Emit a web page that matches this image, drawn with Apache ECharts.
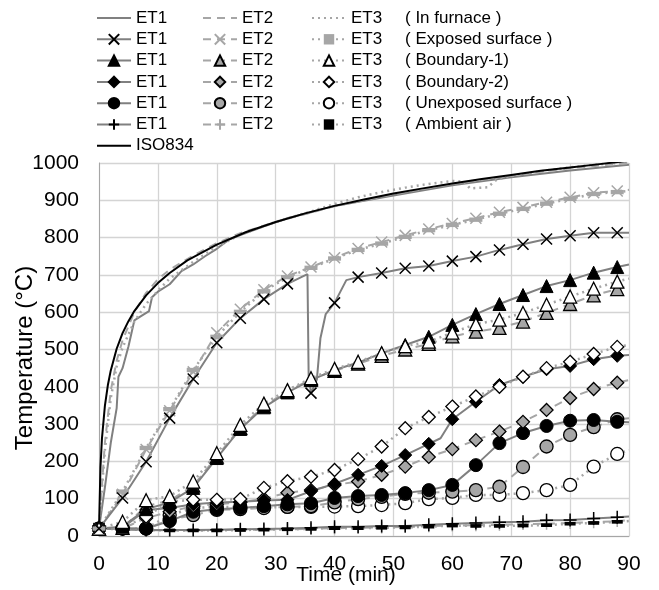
<!DOCTYPE html>
<html>
<head>
<meta charset="utf-8">
<script src="https://cdn.jsdelivr.net/npm/echarts@6/dist/echarts.min.js"></script>
<style>
  html, body { margin: 0; padding: 0; background: #fff; }
  #chart { width: 659px; height: 590px; }
</style>
</head>
<body>
<div id="chart"></div>
<script>
// time axis (min), markers every 4 min
const mins = [0,4,8,12,16,20,24,28,32,36,40,44,48,52,56,60,64,68,72,76,80,84,88,90]

// ISO834 standard fire curve
const isoTime = [0,0.25,0.5,1,1.5,2,3,4,5,6,8,10,12,15,20,25,30,35,40,45,50,55,60,65,70,75,80,85,90]
const isoTemp = [20,185,261,349,404,444,502,544,576,603,645,678,705,739,781,815,842,865,885,902,918,932,945,957,968,979,988,997,1006]

// in furnace
const furn1Time = [0,1,2,3,3.3,4,5,6,7,8.5,9,10,12,14,16,18,20,22,24,28,32,36,40,50,60,70,80,90]
const furn1 = [20,130,250,343,427,450,508,578,588,603,640,655,675,710,728,750,770,794,807,830,852,868,885,913,940,962,980,995]
const furn2Time = [0,1,2,3,4,6,8,10,12,16,20,24,30,40,50,60,70,80,90]
const furn2 = [20,250,390,470,525,600,652,688,714,752,785,812,842,884,916,944,966,986,1000]
const furn3Time = [0,1,2,3,4,6,8,10,12,16,20,24,30,36,40,44,48,52,56,60,62,63,66,67.5,70,76,80,84,88,90]
const furn3 = [20,230,370,455,505,575,622,658,690,735,775,808,842,870,890,908,922,934,944,952,950,932,935,955,965,980,988,995,1000,1000]

// exposed surface
const exp1Time = [0,4,8,12,16,20,24,28,32,35.4,35.6,36,37,37.6,38.5,40,42,44,48,52,56,60,64,68,72,76,80,84,88,90]
const exp1 = [20,102,199,316,421,518,584,635,676,702,430,383,420,530,595,625,686,694,705,718,724,737,749,767,782,796,805,813,813,813]
const exp2 = [20,112,232,336,440,545,608,660,697,721,746,771,788,806,823,838,852,868,881,895,908,920,925,928]
const exp3 = [20,119,236,340,445,534,601,656,694,719,744,767,784,802,820,834,848,864,877,891,904,917,922,925]

// boundary-1
const bnd1a = [20,25,72,90,129,209,287,345,385,418,445,465,490,512,534,566,595,622,646,670,686,706,721,728]
const bnd1b = [20,22,80,95,135,213,290,348,388,420,443,462,483,500,515,535,548,558,575,598,622,645,662,670]
const bnd1c = [20,38,96,107,146,222,298,355,391,423,448,467,490,509,521,545,568,580,598,620,642,663,682,690]

// boundary-2
const bnd2aTime = [0,4,8,12,16,20,24,28,32,36,40,44,48,52,56,58,60,64,68,72,76,80,84,88,90]
const bnd2a = [20,22,70,75,85,90,92,95,97,120,140,164,188,217,247,262,313,360,405,427,447,456,474,483,485]
const bnd2b = [20,20,48,65,80,85,90,100,116,123,137,146,164,186,212,233,257,280,306,338,370,394,411,418]
const bnd2c = [20,22,52,92,97,97,99,129,147,159,177,206,240,289,319,347,374,400,427,450,467,488,507,512]

// unexposed surface
const unexp1 = [20,20,20,40,65,72,75,80,85,88,102,107,110,115,123,137,190,249,276,295,309,311,306,305]
const unexp2 = [20,20,20,43,56,70,72,75,78,80,90,99,105,113,116,119,123,132,185,240,271,292,313,316]
const unexp3 = [20,20,20,56,75,78,78,76,78,78,79,80,83,88,99,102,110,110,115,123,137,186,220,230]

// ambient air
const amb1 = [20,18,16,16,16,17,18,19,20,22,25,25,27,27,30,33,35,37,38,42,43,47,50,52]
const amb2 = [20,18,16,15,15,16,17,17,18,19,21,22,23,24,26,28,29,30,32,33,35,37,40,42]
const amb3 = [20,18,16,15,15,15,16,17,18,19,21,21,22,23,25,28,27,27,28,29,33,35,38,40]

const posLabels = ['( In furnace )', '( Exposed surface )', '( Boundary-1)', '( Boundary-2)', '( Unexposed surface )', '( Ambient air )']

const FONT = 'Liberation Sans, Arial, sans-serif'
const C1 = '#808080'
const C2 = '#a6a6a6'
const C3 = '#a6a6a6'
const GRAYFILL = '#a6a6a6'
const CLEAR = 'rgba(0,0,0,0)'

const SYM_X = 'path://M0,0L10,10M10,0L0,10'
const SYM_PLUS = 'path://M5,0L5,10M0,5L10,5'
const SYM_DASH = 'path://M0,0L12,0L12,4L0,4Z'

function pts(times, vals) {
  return times.map((t, i) => (t % 4 === 0)
    ? [t, vals[i]]
    : { value: [t, vals[i]], symbol: 'none' })
}

const LINE = {
  1: { color: C1, width: 2, type: 'solid' },
  2: { color: C2, width: 2, type: [8, 6] },
  3: { color: C3, width: 2.5, type: [2, 4] }
}

function mk(name, et, times, vals, symbol, size, fill, border, bw, hideSym) {
  return {
    name: name,
    type: 'line',
    data: pts(times, vals),
    symbol: symbol,
    symbolSize: size,
    symbolKeepAspect: symbol === SYM_DASH,
    showSymbol: !hideSym,
    animation: false,
    lineStyle: Object.assign({}, LINE[et]),
    itemStyle: { color: fill, borderColor: border, borderWidth: bw },
    emphasis: { disabled: true }
  }
}

const series = [
  mk('ET1 furnace', 1, furn1Time, furn1, 'circle', 1, CLEAR, CLEAR, 0, true),
  mk('ET2 furnace', 2, furn2Time, furn2, 'circle', 1, CLEAR, CLEAR, 0, true),
  mk('ET3 furnace', 3, furn3Time, furn3, 'circle', 1, CLEAR, CLEAR, 0, true),
  {
    name: 'ISO834', type: 'line', symbol: 'circle', symbolSize: 1, showSymbol: false, animation: false,
    data: isoTime.map((t, i) => [t, isoTemp[i]]),
    lineStyle: { color: '#000', width: 2 },
    itemStyle: { color: CLEAR, borderColor: CLEAR, borderWidth: 0 },
    emphasis: { disabled: true }
  },
  mk('ET2 ambient', 2, mins, amb2, SYM_PLUS, 12, C2, C2, 1.5),
  mk('ET3 ambient', 3, mins, amb3, SYM_DASH, 11, '#000', '#000', 0),
  mk('ET1 ambient', 1, mins, amb1, SYM_PLUS, 13, '#000', '#000', 1.5),
  mk('ET3 unexposed', 3, mins, unexp3, 'circle', 13, '#fff', '#000', 1.3),
  mk('ET2 unexposed', 2, mins, unexp2, 'circle', 13, GRAYFILL, '#000', 1.3),
  mk('ET1 unexposed', 1, mins, unexp1, 'circle', 13, '#000', '#000', 1),
  mk('ET2 boundary2', 2, mins, bnd2b, 'diamond', 13, GRAYFILL, '#000', 1.3),
  mk('ET1 boundary2', 1, bnd2aTime, bnd2a, 'diamond', 13, '#000', '#000', 1),
  mk('ET3 boundary2', 3, mins, bnd2c, 'diamond', 13, '#fff', '#000', 1.3),
  mk('ET2 boundary1', 2, mins, bnd1b, 'triangle', 13, GRAYFILL, '#000', 1.3),
  mk('ET1 boundary1', 1, mins, bnd1a, 'triangle', 13, '#000', '#000', 1),
  mk('ET3 boundary1', 3, mins, bnd1c, 'triangle', 13, '#fff', '#000', 1.3),
  mk('ET3 exposed', 3, mins, exp3, SYM_DASH, 13, C2, C2, 0),
  mk('ET2 exposed', 2, mins, exp2, SYM_X, 11, C2, C2, 1.5),
  mk('ET1 exposed', 1, exp1Time, exp1, SYM_X, 11, '#000', '#000', 1.5)
]

function legendCol(left, names) {
  return {
    orient: 'vertical',
    left: left,
    top: 9,
    padding: 0,
    itemWidth: 34,
    itemHeight: 13,
    itemGap: 3.3,
    selectedMode: false,
    formatter: name => name.split(' ')[0],
    textStyle: { fontSize: 17, color: '#000', fontFamily: FONT, lineHeight: 18 },
    data: names
  }
}

const kinds = ['furnace', 'exposed', 'boundary1', 'boundary2', 'unexposed', 'ambient']

const option = {
  backgroundColor: '#fff',
  textStyle: { fontFamily: FONT },
  grid: { left: 99, right: 30, top: 163, bottom: 54, outerBoundsMode: 'none' },
  legend: [
    legendCol(96, kinds.map(k => 'ET1 ' + k).concat(['ISO834'])),
    legendCol(202, kinds.map(k => 'ET2 ' + k)),
    legendCol(311, kinds.map(k => 'ET3 ' + k))
  ],
  graphic: posLabels.map((txt, i) => ({
    type: 'text',
    x: 405,
    y: 18 + i * 21.3,
    style: { text: txt, fill: '#000', fontSize: 17, fontFamily: FONT, verticalAlign: 'middle' }
  })).concat([
    {
      type: 'text', x: 346, y: 575,
      style: { text: 'Time (min)', fill: '#000', fontSize: 21, fontFamily: FONT, align: 'center', verticalAlign: 'middle' }
    },
    {
      type: 'text', x: 25, y: 358, rotation: Math.PI / 2,
      style: { text: 'Temperature (°C)', fill: '#000', fontSize: 24, fontFamily: FONT, align: 'center', verticalAlign: 'middle' }
    }
  ]),
  xAxis: {
    type: 'value',
    min: 0, max: 90, interval: 10,
    axisLine: { show: true, lineStyle: { color: '#a6a6a6', width: 1 } },
    axisTick: { show: false },
    axisLabel: { fontSize: 21, color: '#000', margin: 18 },
    splitLine: { show: true, lineStyle: { color: '#d4d4d4', width: 1.3 } }
  },
  yAxis: {
    type: 'value',
    min: 0, max: 1000, interval: 100,
    axisLine: { show: true, lineStyle: { color: '#a6a6a6', width: 1 } },
    axisTick: { show: false },
    axisLabel: { fontSize: 21, color: '#000', margin: 20, formatter: v => String(v) },
    splitLine: { show: true, lineStyle: { color: '#d4d4d4', width: 1.3 } }
  },
  series: series
}

const chart = echarts.init(document.getElementById('chart'), null, { renderer: 'canvas' })
chart.setOption(option)
</script>
</body>
</html>
